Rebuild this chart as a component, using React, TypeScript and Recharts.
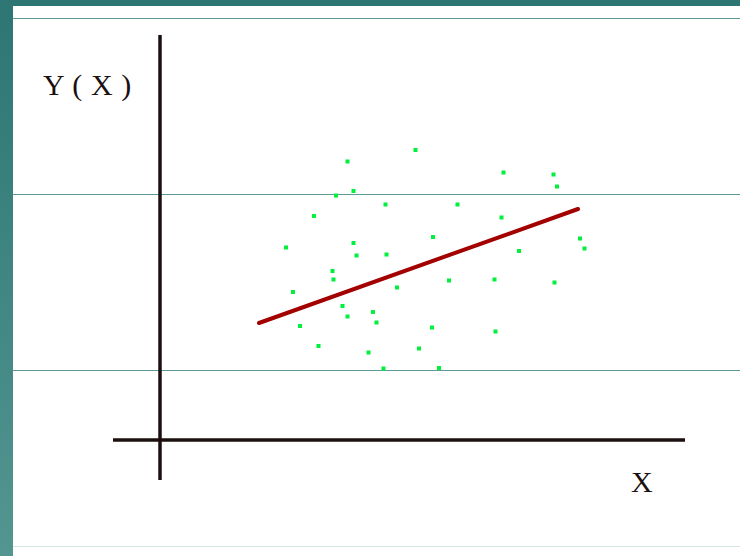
import React from 'react';
import { ScatterChart, Scatter, XAxis, YAxis, ReferenceLine } from 'recharts';

// scattered observations (x, y), origin at the axes crossing
const obsX = [5.11, 3.75, 3.87, 3.52, 4.51, 3.08, 5.46, 3.87, 2.52, 3.93, 4.53, 6.87, 7.87, 7.94, 5.95, 6.83, 8.4, 8.49, 7.18,
  3.45, 3.47, 2.66, 4.74, 5.78, 3.65, 3.75, 4.26, 4.33, 2.8, 5.44, 3.17, 4.17, 5.18, 4.47, 5.58, 6.69, 7.89, 6.71];
const obsY = [5.8, 5.57, 4.98, 4.89, 4.71, 4.48, 4.06, 3.94, 3.85, 3.69, 3.71, 5.35, 5.31, 5.07, 4.71, 4.45, 4.03, 3.83, 3.78,
  3.38, 3.21, 2.96, 3.05, 3.19, 2.68, 2.47, 2.56, 2.35, 2.28, 2.25, 1.88, 1.75, 1.83, 1.43, 1.44, 3.21, 3.15, 2.17];

// fitted regression line end points
const fitX = [1.98, 8.36];
const fitY = [2.34, 4.62];

const points = obsX.map((x, i) => ({ x, y: obsY[i] }));
const fit = fitX.map((x, i) => ({ x, y: fitY[i] }));

const ink = '#1b0f0f';
const teal = '#5e9a98';

const Square = (props: any) => (
  <rect x={props.cx - 2} y={props.cy - 2} width={4} height={4} fill="#00f03c" />
);

const label: React.CSSProperties = {
  position: 'absolute',
  fontFamily: '"Liberation Serif", "Times New Roman", serif',
  fontSize: 30,
  lineHeight: '30px',
  color: ink,
  whiteSpace: 'pre',
};

export default function App() {
  return (
    <div style={{ position: 'absolute', left: 0, top: 0, width: 740, height: 556, background: '#fff', overflow: 'hidden' }}>
      <div style={{ position: 'absolute', left: 0, top: 0, width: 740, height: 6, background: '#2d7673' }} />
      <div style={{ position: 'absolute', left: 0, top: 0, width: 13, height: 556, background: 'linear-gradient(#2d7673, #539591)' }} />
      <div style={{ position: 'absolute', left: 13, top: 18, width: 727, height: 1, background: teal }} />
      <div style={{ position: 'absolute', left: 13, top: 194, width: 727, height: 1, background: teal }} />
      <div style={{ position: 'absolute', left: 13, top: 370, width: 727, height: 1, background: teal }} />
      <div style={{ position: 'absolute', left: 13, top: 546, width: 727, height: 1, background: '#d6e5e4' }} />

      <div style={{ position: 'absolute', left: 0, top: 0 }}>
        <ScatterChart width={740} height={556} margin={{ top: 0, right: 0, bottom: 0, left: 0 }}>
          <XAxis type="number" dataKey="x" domain={[-3.2, 11.6]} hide allowDataOverflow />
          <YAxis type="number" dataKey="y" domain={[-2.32, 8.8]} hide allowDataOverflow />
          <ReferenceLine segment={[{ x: 0, y: -0.8 }, { x: 0, y: 8.1 }]} stroke={ink} strokeWidth={3.5} />
          <ReferenceLine segment={[{ x: -0.94, y: 0 }, { x: 10.5, y: 0 }]} stroke={ink} strokeWidth={3.5} />
          <Scatter data={points} shape={Square} isAnimationActive={false} />
          <Scatter
            data={fit}
            shape={() => <g />}
            line={{ stroke: '#a30000', strokeWidth: 4, strokeLinecap: 'round' }}
            isAnimationActive={false}
          />
        </ScatterChart>
      </div>

      <div style={{ ...label, left: 43, top: 70, letterSpacing: 0.6 }}>Y ( X )</div>
      <div style={{ ...label, left: 631, top: 467 }}>X</div>
    </div>
  );
}
